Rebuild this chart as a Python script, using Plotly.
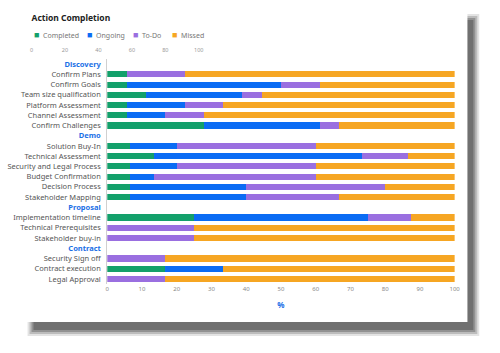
import plotly.graph_objects as go

W, H = 500, 353

# ---------------- data ----------------
categories = [
    "Discovery", "Confirm Plans", "Confirm Goals", "Team size qualification",
    "Platform Assessment", "Channel Assessment", "Confirm Challenges",
    "Demo", "Solution Buy-In", "Technical Assessment", "Security and Legal Process",
    "Budget Confirmation", "Decision Process", "Stakeholder Mapping",
    "Proposal", "Implementation timeline", "Technical Prerequisites", "Stakeholder buy-in",
    "Contract", "Security Sign off", "Contract execution", "Legal Approval",
]
headers = ["Discovery", "Demo", "Proposal", "Contract"]

completed = [None, 5.56, 5.56, 11.11, 5.56, 5.56, 27.78,
             None, 6.67, 13.33, 6.67, 6.67, 6.67, 6.67,
             None, 25, 0, 0,
             None, 0, 16.67, 0]
ongoing = [None, 0, 44.44, 27.78, 16.67, 11.11, 33.33,
           None, 13.33, 60, 13.33, 6.67, 33.33, 33.33,
           None, 50, 0, 0,
           None, 0, 16.67, 0]
todo = [None, 16.67, 11.11, 5.56, 11.11, 11.11, 5.56,
        None, 40, 13.33, 40, 46.67, 40, 26.67,
        None, 12.5, 25, 25,
        None, 16.67, 0, 16.67]
missed = [None, 77.78, 38.89, 55.56, 66.67, 72.22, 33.33,
          None, 40, 13.33, 40, 40, 20, 33.33,
          None, 12.5, 75, 75,
          None, 83.33, 66.67, 83.33]

series_names = ["Completed", "Ongoing", "To-Do", "Missed"]
series_values = [completed, ongoing, todo, missed]
x_ticks = [0, 10, 20, 30, 40, 50, 60, 70, 80, 90, 100]
top_ticks = [0, 20, 40, 60, 80, 100]

# ---------------- styles ----------------
colors = ["#13A06B", "#0B6CF4", "#9A6FE0", "#F6A623"]
header_color = "#1A6FE6"
FONT = "Noto Sans"

def px_x(p):
    return p / W

def px_y(p):
    return 1 - p / H

def label(c):
    if c in headers:
        return f"<b><span style='color:{header_color}'>{c}</span></b>"
    return c

ylabels = [label(c) for c in categories]

fig = go.Figure()
for name, vals, col in zip(series_names, series_values, colors):
    fig.add_trace(go.Bar(
        x=vals, y=ylabels, orientation="h", name=name,
        marker=dict(color=col, line=dict(width=0)),
        showlegend=False, hoverinfo="x+name",
    ))

# dummy trace to realise the small top scale
fig.add_trace(go.Scatter(x=[None], y=[None], xaxis="x2", yaxis="y2",
                         showlegend=False, hoverinfo="skip"))

# shadow + card shapes
shapes = []
for i, op in enumerate([0.15, 0.25, 0.35, 0.45]):
    shapes.append(dict(type="rect", xref="paper", yref="paper", layer="below",
                       x0=px_x(26 + 2 * i), x1=px_x(485 - 2 * i),
                       y0=px_y(336 - 2 * i), y1=px_y(14 + 2 * i),
                       fillcolor=f"rgba(70,70,70,{op})", line=dict(width=0)))
shapes.append(dict(type="rect", xref="paper", yref="paper", layer="below",
                   x0=px_x(0), x1=px_x(473), y0=px_y(322), y1=px_y(0),
                   fillcolor="white", line=dict(width=0)))

# legend as annotations
legend_x = [30, 84, 131, 171]
annotations = []
for nm, col, lx in zip(series_names, colors, legend_x):
    annotations.append(dict(
        xref="paper", yref="paper", x=px_x(lx), y=px_y(34), xanchor="left", yanchor="middle",
        showarrow=False,
        text=f"<span style='color:{col};font-size:9px'>■</span>  {nm}",
        font=dict(family=FONT, size=7, color="#777777"),
    ))

fig.update_layout(
    width=W, height=H,
    margin=dict(l=0, r=0, t=0, b=0),
    paper_bgcolor="white", plot_bgcolor="rgba(0,0,0,0)",
    barmode="stack", bargap=0.4,
    title=dict(text="<b>Action Completion</b>", x=px_x(30), xanchor="left",
               y=px_y(18), yanchor="middle", xref="paper", yref="container",
               font=dict(family=FONT, size=8.5, color="#222222")),
    font=dict(family=FONT),
    xaxis=dict(domain=[px_x(107), px_x(460)], range=[0, 100], tickvals=x_ticks,
               showgrid=False, zeroline=False, showline=False, ticks="",
               tickfont=dict(size=6, color="#888888"),
               title=dict(text="<b>%</b>", font=dict(size=8, color=header_color), standoff=10),
               anchor="y", fixedrange=True),
    yaxis=dict(domain=[1 - 284 / H, 1 - 59 / H], autorange="reversed",
               showgrid=False, zeroline=False, showline=True, linecolor="#D0D0D0",
               linewidth=1, ticks="", ticklabelstandoff=4,
               tickfont=dict(size=7.5, color="#555555"), anchor="x", fixedrange=True),
    xaxis2=dict(domain=[px_x(30), px_x(200)], range=[0, 100], tickvals=top_ticks,
                showgrid=False, zeroline=False, showline=False, ticks="",
                tickfont=dict(size=5.5, color="#999999"), anchor="y2", fixedrange=True),
    yaxis2=dict(domain=[1 - 45 / H, 1 - 44 / H], range=[0, 1], visible=False,
                anchor="x2", fixedrange=True),
    shapes=shapes,
    annotations=annotations,
    showlegend=False,
)

fig.write_html("out.html")
